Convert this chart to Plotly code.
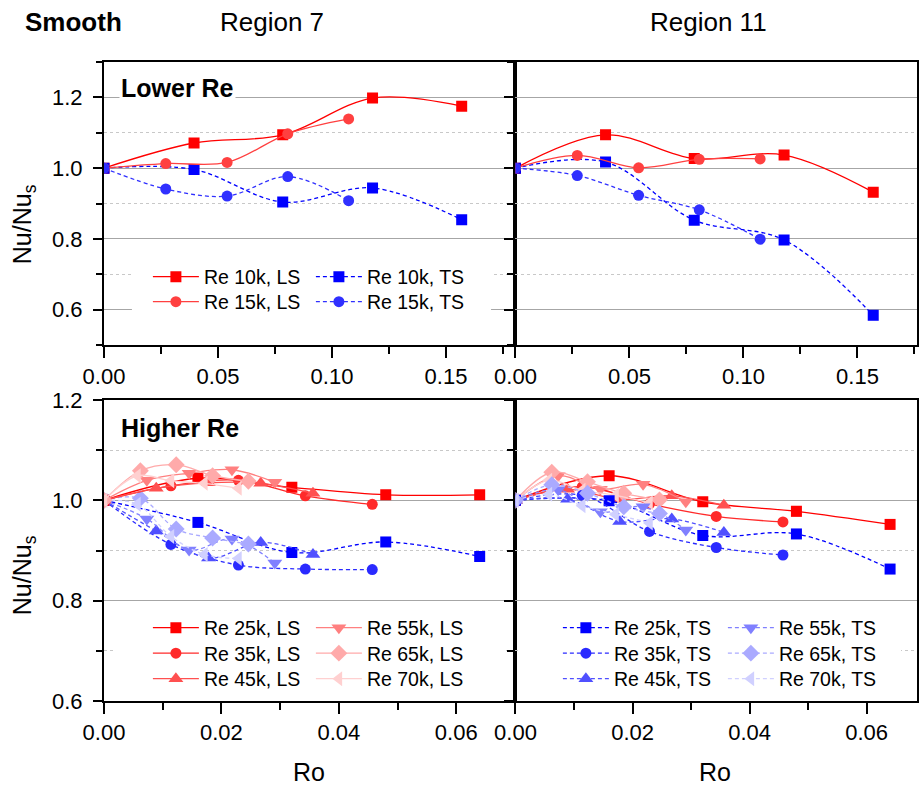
import plotly.graph_objects as go

# ---------------- data ----------------
# Lower Re (Re 10k, 15k): rotation number and normalised Nusselt number
ro_10k = [0.0, 0.0395, 0.0784, 0.1178, 0.1569]
ro_15k = [0.0, 0.0271, 0.0540, 0.0806, 0.1073]

r7_10k_ls = [1.0, 1.071, 1.094, 1.198, 1.175]
r7_15k_ls = [1.0, 1.013, 1.016, 1.097, 1.139]
r7_10k_ts = [1.0, 0.996, 0.904, 0.944, 0.854]
r7_15k_ts = [1.0, 0.941, 0.921, 0.976, 0.908]

r11_10k_ls = [1.0, 1.094, 1.027, 1.037, 0.932]
r11_15k_ls = [1.0, 1.036, 1.001, 1.025, 1.026]
r11_10k_ts = [1.0, 1.017, 0.853, 0.797, 0.584]
r11_15k_ts = [1.0, 0.979, 0.923, 0.882, 0.799]

# Higher Re (25k .. 70k)
re_high = ["25k", "35k", "45k", "55k", "65k", "70k"]
ro_high = {
    "25k": [0.0, 0.0160, 0.0320, 0.0480, 0.0640],
    "35k": [0.0, 0.0114, 0.0229, 0.0343, 0.0457],
    "45k": [0.0, 0.0089, 0.0178, 0.0267, 0.0356],
    "55k": [0.0, 0.0073, 0.0145, 0.0218, 0.0291],
    "65k": [0.0, 0.0062, 0.0123, 0.0185, 0.0246],
    "70k": [0.0, 0.0057, 0.0114, 0.0171, 0.0229],
}
r7_high_ls = {
    "25k": [1.0, 1.044, 1.026, 1.011, 1.011],
    "35k": [1.0, 1.029, 1.040, 1.009, 0.992],
    "45k": [1.0, 1.024, 1.035, 1.034, 1.014],
    "55k": [1.0, 1.040, 1.054, 1.061, 1.036],
    "65k": [1.0, 1.059, 1.071, 1.049, 1.038],
    "70k": [1.0, 1.049, 1.039, 1.034, 1.024],
}
r7_high_ts = {
    "25k": [1.0, 0.956, 0.896, 0.917, 0.888],
    "35k": [1.0, 0.912, 0.871, 0.863, 0.862],
    "45k": [1.0, 0.939, 0.885, 0.916, 0.892],
    "55k": [1.0, 0.963, 0.901, 0.923, 0.875],
    "65k": [1.0, 1.004, 0.943, 0.925, 0.913],
    "70k": [1.0, 0.992, 0.928, 0.892, 0.884],
}
r11_high_ls = {
    "25k": [1.0, 1.049, 0.997, 0.978, 0.952],
    "35k": [1.0, 1.027, 0.993, 0.968, 0.957],
    "45k": [1.0, 1.022, 1.002, 1.009, 0.990],
    "55k": [1.0, 1.049, 1.022, 1.032, 0.997],
    "65k": [1.0, 1.056, 1.037, 1.014, 1.001],
    "70k": [1.0, 1.040, 1.020, 1.010, 0.995],
}
r11_high_ts = {
    "25k": [1.0, 0.999, 0.930, 0.933, 0.863],
    "35k": [1.0, 1.010, 0.938, 0.906, 0.891],
    "45k": [1.0, 1.002, 0.958, 0.963, 0.936],
    "55k": [1.0, 1.021, 0.977, 0.987, 0.941],
    "65k": [1.0, 1.031, 1.014, 0.987, 0.974],
    "70k": [1.0, 1.012, 0.989, 0.972, 0.955],
}

# ---------------- styling ----------------
FONT = "Liberation Sans, Arial, sans-serif"
W, H = 920, 787
ML, MR, MT, MB = 104, 1, 62, 86
PW, PH = W - ML - MR, H - MT - MB
XSPLIT_PX = 516.5
TOP_PX, TOP_BOT_PX = 62, 345
BOT_TOP_PX, BOT_PX = 400, 701

XR_TOP_L, XR_TOP_R = [0, 0.1805], [0, 0.1761]
XR_BOT_L, XR_BOT_R = [0, 0.0701], [0, 0.0686]
YR_TOP, YR_BOT = [0.5, 1.3], [0.6, 1.2]


def fx(x):
    return (x - ML) / PW


def fy(y):
    return (H - MB - y) / PH


red_shades = {"10k": "#ff0000", "15k": "#ff4040",
              "25k": "#ff0000", "35k": "#ff2a2a", "45k": "#ff5050",
              "55k": "#ff8080", "65k": "#ffaaaa", "70k": "#ffd0d0"}
blue_shades = {"10k": "#0000ff", "15k": "#3030ff",
               "25k": "#0000ff", "35k": "#2a2aff", "45k": "#5050ff",
               "55k": "#8080ff", "65k": "#aaaaff", "70k": "#d0d0ff"}
symbols = {"10k": "square", "15k": "circle",
           "25k": "square", "35k": "circle", "45k": "triangle-up",
           "55k": "triangle-down", "65k": "diamond", "70k": "triangle-left"}
msize = {"square": 11, "circle": 11, "triangle-up": 13,
         "triangle-down": 13, "diamond": 13, "triangle-left": 13}

fig = go.Figure()


def add(x, y, re, kind, xa, ya, legend=None):
    col = red_shades[re] if kind == "LS" else blue_shades[re]
    sym = symbols[re]
    fig.add_trace(go.Scatter(
        x=x, y=y, mode="lines+markers", xaxis=xa, yaxis=ya,
        name=f"Re {re}, {kind}",
        line=dict(color=col, width=1.3, shape="spline", smoothing=1.0,
                  dash="solid" if kind == "LS" else "4px,3px"),
        marker=dict(symbol=sym, size=msize[sym], color=col, line=dict(width=0)),
        showlegend=legend is not None,
        legend=legend if legend else "legend",
    ))


# top row: lower Re
add(ro_10k, r7_10k_ls, "10k", "LS", "x", "y", "legend")
add(ro_10k, r7_10k_ts, "10k", "TS", "x", "y", "legend")
add(ro_15k, r7_15k_ls, "15k", "LS", "x", "y", "legend2")
add(ro_15k, r7_15k_ts, "15k", "TS", "x", "y", "legend2")
add(ro_10k, r11_10k_ls, "10k", "LS", "x2", "y2")
add(ro_10k, r11_10k_ts, "10k", "TS", "x2", "y2")
add(ro_15k, r11_15k_ls, "15k", "LS", "x2", "y2")
add(ro_15k, r11_15k_ts, "15k", "TS", "x2", "y2")

# bottom row: higher Re
row_legend_l = ["legend3", "legend4", "legend5"]
row_legend_r = ["legend6", "legend7", "legend8"]
for re in re_high:
    add(ro_high[re], r7_high_ts[re], re, "TS", "x3", "y3")
for i, re in enumerate(re_high):
    add(ro_high[re], r7_high_ls[re], re, "LS", "x3", "y3", row_legend_l[i % 3])
for re in re_high:
    add(ro_high[re], r11_high_ls[re], re, "LS", "x4", "y4")
for i, re in enumerate(re_high):
    add(ro_high[re], r11_high_ts[re], re, "TS", "x4", "y4", row_legend_r[i % 3])

# ---------------- axes ----------------
xsplit = fx(XSPLIT_PX)
top_dom = [fy(TOP_BOT_PX), 1.0]
bot_dom = [0.0, fy(BOT_TOP_PX)]

tickfont = dict(family=FONT, size=22, color="black")


def xax(dom, rng, dtick, mdtick, anchor):
    return dict(domain=dom, range=rng, anchor=anchor, dtick=dtick, tick0=0,
                tickformat=".2f", showline=True, linecolor="black", linewidth=2,
                mirror=True, ticks="outside", ticklen=11, tickwidth=1.5,
                tickcolor="black", showgrid=False, zeroline=False,
                tickfont=tickfont,
                minor=dict(dtick=mdtick, tick0=0, ticks="outside", ticklen=7,
                           tickwidth=1.5, tickcolor="black", showgrid=False))


def yax(dom, rng, labels, anchor):
    return dict(domain=dom, range=rng, anchor=anchor, dtick=0.2, tick0=0.6,
                tickformat=".1f", showticklabels=labels, showline=True,
                linecolor="black", linewidth=2, mirror=True, ticks="outside",
                ticklen=9, tickwidth=1.5, tickcolor="black", showgrid=True,
                gridcolor="#a6a6a6", gridwidth=1, zeroline=False,
                tickfont=tickfont, ticklabelstandoff=6,
                minor=dict(dtick=0.1, tick0=0.5, ticks="outside", ticklen=6,
                           tickwidth=1.5, tickcolor="black", showgrid=True,
                           gridcolor="#c8c8c8", griddash="dot", gridwidth=1))


fig.update_layout(
    xaxis=xax([0, xsplit], XR_TOP_L, 0.05, 0.025, "y"),
    xaxis2=xax([xsplit, 1], XR_TOP_R, 0.05, 0.025, "y2"),
    xaxis3=xax([0, xsplit], XR_BOT_L, 0.02, 0.01, "y3"),
    xaxis4=xax([xsplit, 1], XR_BOT_R, 0.02, 0.01, "y4"),
    yaxis=yax(top_dom, YR_TOP, True, "x"),
    yaxis2=yax(top_dom, YR_TOP, False, "x2"),
    yaxis3=yax(bot_dom, YR_BOT, True, "x3"),
    yaxis4=yax(bot_dom, YR_BOT, False, "x4"),
)

# ---------------- legends (one per row, two columns each) ----------------
legfont = dict(family=FONT, size=19.5, color="black")


def leg(marker_x, row_y, colgap):
    return dict(orientation="h", x=fx(marker_x - 28), y=fy(row_y),
                xanchor="left", yanchor="middle", xref="paper", yref="paper",
                bgcolor="rgba(0,0,0,0)", borderwidth=0, font=legfont,
                itemwidth=46, entrywidth=colgap - 61, entrywidthmode="pixels",
                traceorder="normal", itemclick=False, itemdoubleclick=False)


fig.update_layout(
    legend=leg(176, 277, 163),
    legend2=leg(176, 302, 163),
    legend3=leg(176, 628, 163),
    legend4=leg(176, 653.5, 163),
    legend5=leg(176, 679, 163),
    legend6=leg(587, 628, 165),
    legend7=leg(587, 653.5, 165),
    legend8=leg(587, 679, 165),
)

# white legend boxes: above the gridlines, beneath the data
panels = {
    ("x", "y"): (ML, XSPLIT_PX, TOP_PX, TOP_BOT_PX, XR_TOP_L, YR_TOP),
    ("x3", "y3"): (ML, XSPLIT_PX, BOT_TOP_PX, BOT_PX, XR_BOT_L, YR_BOT),
    ("x4", "y4"): (XSPLIT_PX, W - MR, BOT_TOP_PX, BOT_PX, XR_BOT_R, YR_BOT),
}


def legend_box(xa, ya, x0, x1, y0, y1):
    l, r, t, b, xr, yr = panels[(xa, ya)]

    def cx(p):
        return xr[0] + (p - l) / (r - l) * (xr[1] - xr[0])

    def cy(p):
        return yr[0] + (b - p) / (b - t) * (yr[1] - yr[0])

    fig.add_shape(type="rect", xref=xa, yref=ya,
                  x0=cx(x0), x1=cx(x1), y0=cy(y1), y1=cy(y0),
                  fillcolor="white", line=dict(width=0), layer="between")


legend_box("x", "y", 132, 492, 262, 317)
legend_box("x3", "y3", 115, 507, 612, 694)
legend_box("x4", "y4", 521, 903, 612, 694)

# ---------------- text ----------------
ann = []


def text(x, y, s, size, bold=False, angle=0, bg=None):
    ann.append(dict(x=fx(x), y=fy(y), xref="paper", yref="paper", text=s,
                    showarrow=False, textangle=angle, xanchor="center",
                    yanchor="middle", bgcolor=bg,
                    font=dict(family=FONT, size=size, color="black",
                              weight="bold" if bold else "normal")))


text(73, 22, "Smooth", 26, bold=True)
text(272, 22, "Region 7", 26)
text(710, 22, "Region 11", 26)
text(178, 88, "Lower Re", 25, bold=True, bg="white")
text(180, 428, "Higher Re", 25, bold=True)
text(24, 224, "Nu/Nu<sub>s</sub>", 25, angle=-90)
text(24, 575, "Nu/Nu<sub>s</sub>", 25, angle=-90)
text(310, 772, "Ro", 25)
text(717, 772, "Ro", 25)

fig.update_layout(
    annotations=ann,
    width=W, height=H,
    margin=dict(l=ML, r=MR, t=MT, b=MB, pad=0),
    paper_bgcolor="white", plot_bgcolor="white",
    font=dict(family=FONT, color="black"),
)

fig.write_html("out.html")
